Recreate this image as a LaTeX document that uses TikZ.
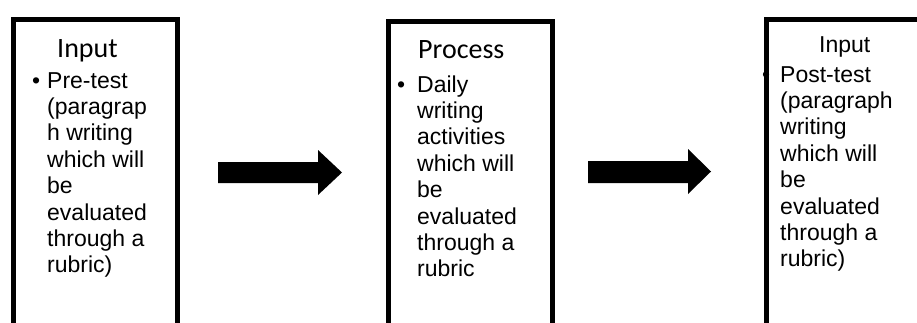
\documentclass[tikz,border=0pt]{standalone}
\usepackage{fontspec}
\setmainfont{Liberation Sans}
\newfontfamily\titlefont{Carlito}
\begin{document}
\begin{tikzpicture}[x=1pt,y=-1pt,
  boxframe/.style={draw=black, line width=5pt, fill=white, inner sep=0pt, anchor=north west},
  bodytext/.style={anchor=base west, inner sep=0pt, align=left, font=\fontsize{23}{26.4}\selectfont},
  titletext/.style={anchor=base west, inner sep=0pt, font=\titlefont\fontsize{28}{30}\selectfont},
  bullettext/.style={anchor=base west, inner sep=0pt, font=\fontsize{23}{26.4}\selectfont},
  blockarrow/.style={fill=black}]
\useasboundingbox (0,0) rectangle (917,322);
\clip (0,0) rectangle (917,322);
% boxes
\node[boxframe, minimum width=164pt, minimum height=340pt] (box1) at (10.5,17) {};
\node[boxframe, minimum width=164pt, minimum height=340pt] (box2) at (386,18.5) {};
\node[boxframe, minimum width=170pt, minimum height=340pt] (box3) at (763.5,16.5) {};
% box 1 texts (body anchored at the baseline of its last line)
\node[titletext] (t1) at (57,57) {Input};
\node[bullettext] (b1) at (32,88) {•};
\node[bodytext] (x1) at (47,272.8) {Pre-test\\(paragrap\\h writing\\which will\\be\\evaluated\\through a\\rubric)};
% box 2 texts
\node[titletext] (t2) at (418,58) {Process};
\node[bullettext] (b2) at (397,92) {•};
\node[bodytext] (x2) at (417,276.8) {Daily\\writing\\activities\\which will\\be\\evaluated\\through a\\rubric};
% box 3 texts
\node[bullettext] (t3) at (819,52) {Input};
\node[bullettext] (b3) at (762,82) {•};
\node[bodytext] (x3) at (780,266.8) {Post-test\\(paragraph\\writing\\which will\\be\\evaluated\\through a\\rubric)};
% arrows
\fill[blockarrow] (218,162) -- (318,162) -- (318,150) -- (342,172.5) -- (318,195) -- (318,183) -- (218,183) -- cycle;
\fill[blockarrow] (588,161) -- (688,161) -- (688,149) -- (711,171.5) -- (688,194) -- (688,183) -- (588,183) -- cycle;
\end{tikzpicture}
\end{document}
